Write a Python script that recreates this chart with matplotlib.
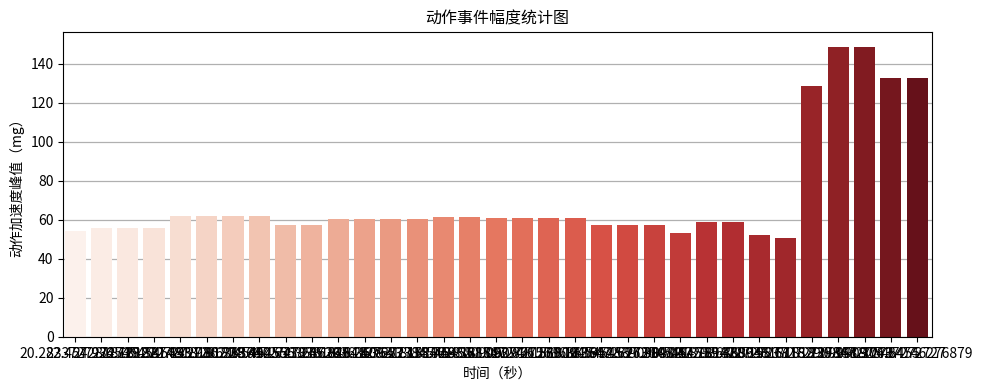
import matplotlib
matplotlib.use('Agg')
import matplotlib.pyplot as plt
import numpy as np
import seaborn as sns

plt.rcParams['font.family'] = ['Noto Sans CJK SC', 'DejaVu Sans']
plt.rcParams['axes.unicode_minus'] = False

# event times (s) used as tick labels
times = ['20.283372727273', '22.457281818182', '24.934545454545', '26.718272727273',
         '29.387481818182', '31.845123636364', '33.980214545455', '36.215767272727',
         '38.492556363636', '40.671838181818', '43.257293636364', '45.826412727273',
         '48.240931818182', '50.627384545455', '53.178461818182', '55.749820909091',
         '58.328547272727', '61.092748181818', '63.871563636364', '66.538094545455',
         '69.183647272727', '71.952839090909', '74.616304545455', '77.394821818182',
         '80.047293636364', '82.719472727273', '85.430938181818', '88.158372727273',
         '95.671829090909', '118.23984727273', '136.94182545455', '158.30637272727',
         '174.84746276879']
# peak acceleration (mg)
peaks = [54.4, 56.0, 56.0, 56.0, 62.1, 62.1, 62.1, 62.1, 57.5, 57.5,
         60.7, 60.7, 60.7, 60.7, 61.7, 61.7, 61.2, 61.2, 61.2, 61.2,
         57.5, 57.5, 57.5, 53.4, 59.0, 59.0, 52.4, 50.8, 128.9, 148.9,
         148.9, 133.0, 133.0]

# seaborn barplot style: Reds palette, desaturated to 0.75
colors = [sns.desaturate(c, 0.75) for c in sns.color_palette('Reds', len(peaks))]

fig, ax = plt.subplots(figsize=(9.88, 3.9), dpi=100)
x = np.arange(len(peaks))
ax.bar(x, peaks, width=0.8, color=colors)
ax.set_xticks(x)
ax.set_xticklabels(times, fontsize=10)
ax.tick_params(axis='y', labelsize=10)
ax.set_xlim(-0.45, len(peaks) - 0.45)
ax.yaxis.grid(True, color='#b0b0b0', linewidth=0.9)
ax.set_axisbelow(True)

ax.set_title('动作事件幅度统计图', fontsize=11.5)
ax.set_xlabel('时间（秒）', fontsize=10)
ax.set_ylabel('动作加速度峰值（mg）', fontsize=10)

plt.subplots_adjust(left=0.064, right=0.943, top=0.918, bottom=0.136)
plt.savefig('out.png', dpi=100)
